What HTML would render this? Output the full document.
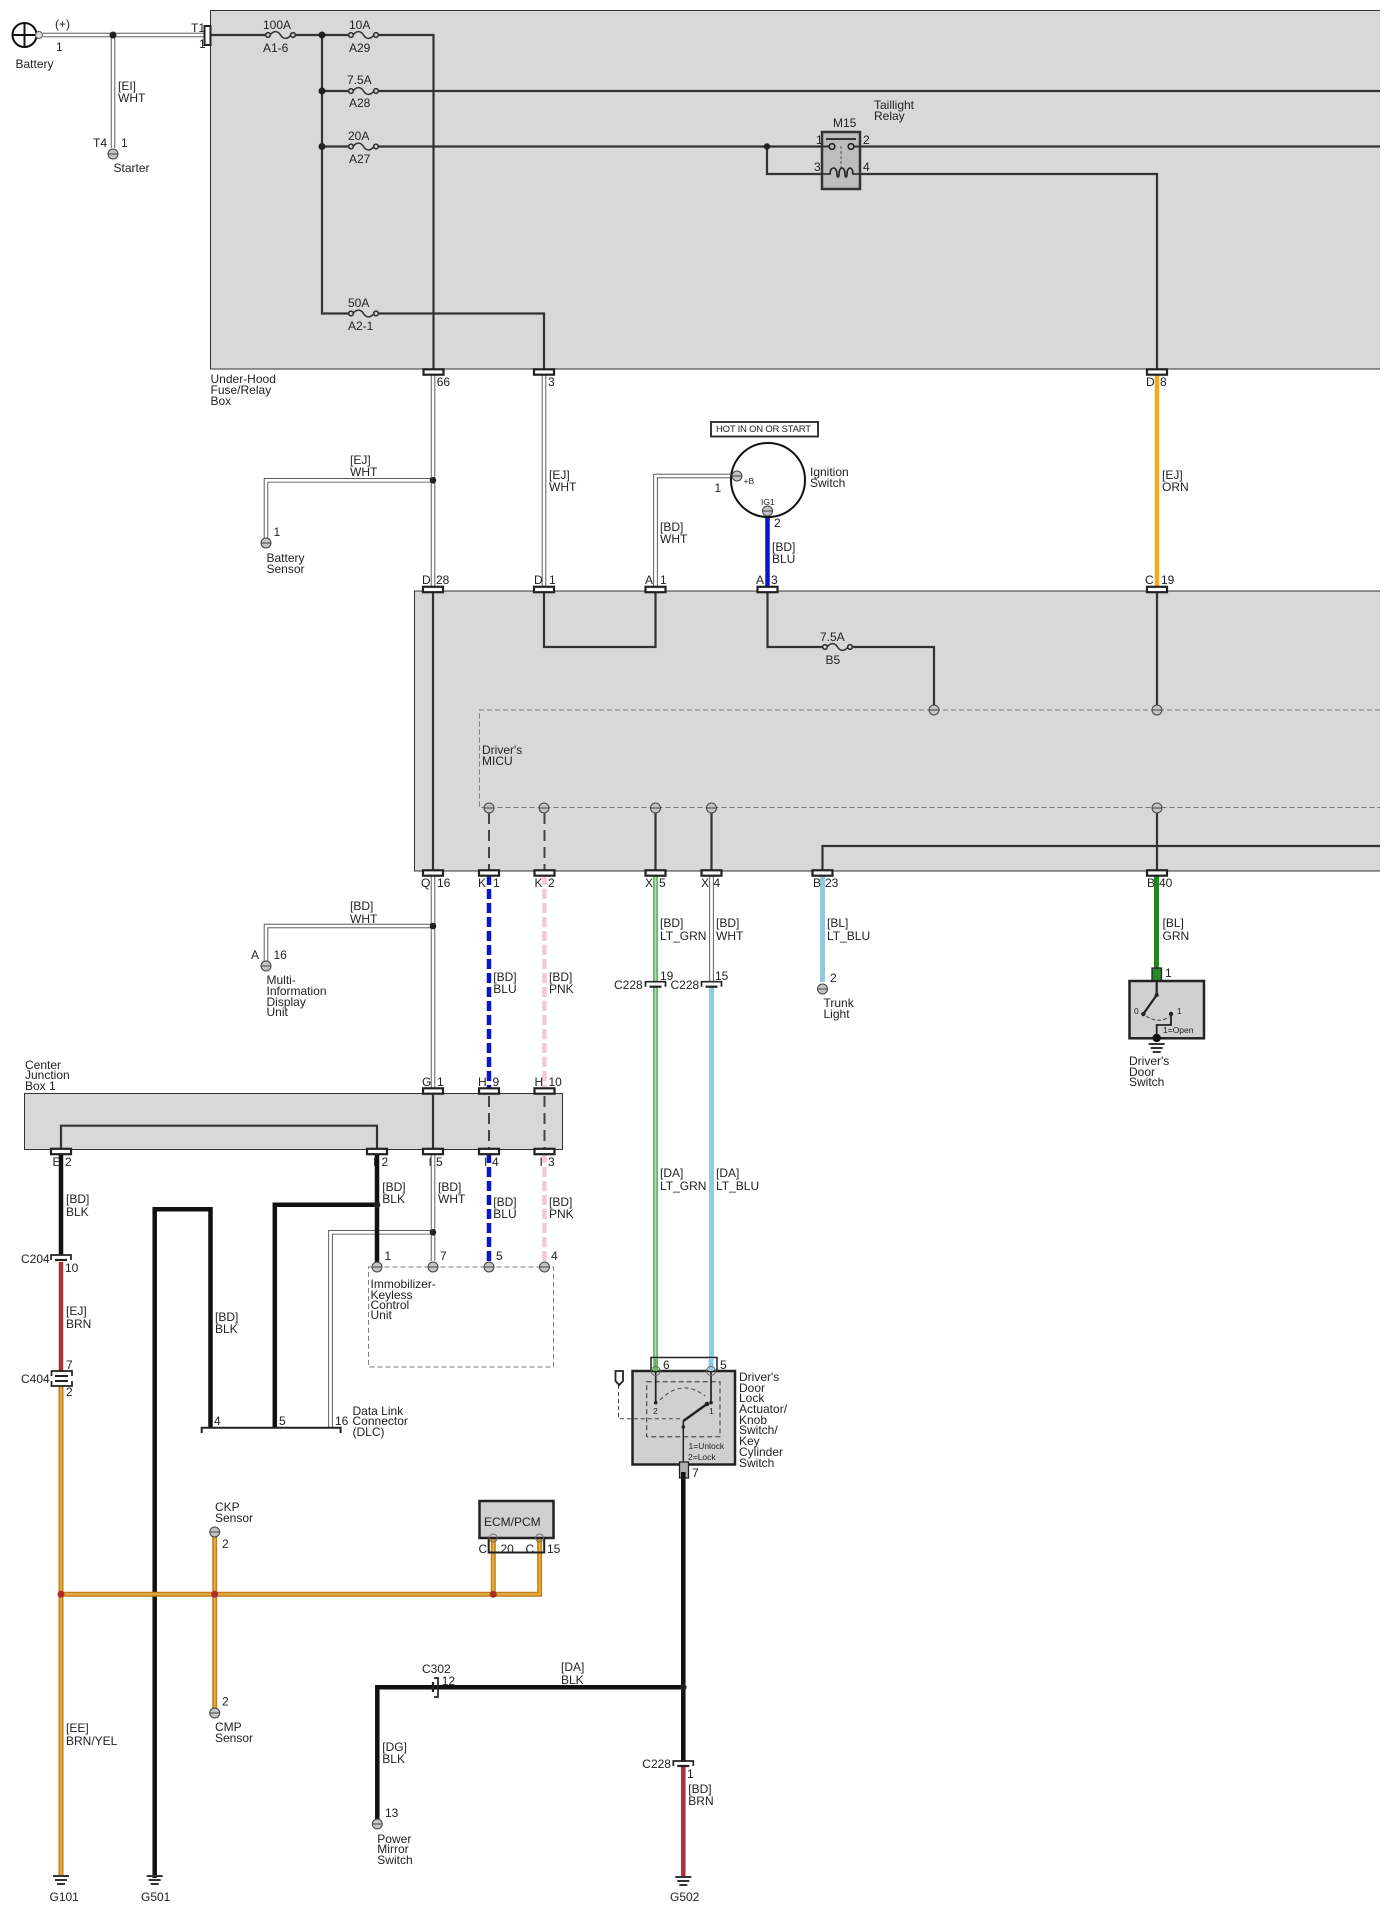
<!DOCTYPE html>
<html><head><meta charset="utf-8"><style>
html,body{margin:0;padding:0;background:#fff}
svg{display:block}
text{font-family:"Liberation Sans",sans-serif;font-size:12px;fill:#222}
.s{font-size:8.5px}
</style></head><body>
<svg width="1390" height="1910" viewBox="0 0 1390 1910" xmlns="http://www.w3.org/2000/svg">
<defs>
<g id="p"><circle r="5" fill="#c4c4c4" stroke="#444" stroke-width="1"/><line x1="-5" x2="5" stroke="#444" stroke-width="1"/></g>
<g id="f" fill="none" stroke="#333"><path d="M2,0C6,-5 10,-4 12.5,0S19,5 23,0" stroke-width="1.6"/><circle r="2.3" fill="#d8d8d8" stroke-width="1.6"/><circle cx="25" r="2.3" fill="#d8d8d8" stroke-width="1.6"/></g>
<rect id="c" x="-10" y="-2.7" width="20" height="5.4" fill="#fff" stroke="#222" stroke-width="2.200"/>
<g id="b" fill="none" stroke="#222"><path d="M-10,5V0H10V5" stroke-width="1.7"/><path d="M-6,5H6" stroke-width="2.2"/></g>
<g id="g" stroke="#333" stroke-width="2"><path d="M-8,1H8M-6,5H6M-4,9H4"/></g>
</defs>

<!-- Boxes -->
<rect x="210.500" y="10.500" width="1169.500" height="358.500" fill="#d8d8d8"/>
<path d="M1380,10.500H210.500V369H1380" fill="none" stroke="#333" stroke-width="1"/>
<rect x="414.500" y="591" width="965.500" height="280" fill="#d8d8d8"/>
<path d="M1380,591H414.500V871H1380" fill="none" stroke="#333" stroke-width="1"/>
<rect x="24.500" y="1093.500" width="538" height="56" fill="#d8d8d8" stroke="#333" stroke-width="1"/>

<!-- MICU dashed -->
<path d="M1380,710H479.500V807.500H1380" fill="none" stroke="#777" stroke-width="0.900" stroke-dasharray="5 3"/>

<!-- Immobilizer dashed -->
<path d="M368.500,1267H553.500V1367H368.500Z" fill="none" stroke="#777" stroke-width="0.900" stroke-dasharray="5 3"/>

<!-- Internal lines box 1 -->
<g fill="none" stroke="#333" stroke-width="2.200">
<path d="M211,35H268M292,35H351M376,35H433.500V372"/>
<path d="M322,35V313.500H351M376,313.500H544V372"/>
<path d="M322,91H351M376,91H1380"/>
<path d="M322,146.500H351M376,146.500H1380"/>
<path d="M767,146.500V174H1157V372"/>
<!-- box 2 -->
<path d="M433,589V873"/>
<path d="M544,589V647H655.500V589"/>
<path d="M767.500,589V647H825M850,647H934V710"/>
<path d="M1157,589V710"/>
<path d="M655.500,808V873M711.500,808V873M1157,808V873"/>
<path d="M822.500,873V846H1380"/>
<!-- box 3 -->
<path d="M61,1151V1125.700H377V1151"/>
<path d="M433,1091V1151"/>
</g>
<g fill="none" stroke="#444" stroke-width="2" stroke-dasharray="11 6">
<path d="M489,813V870"/><path d="M544.500,813V870"/>
<path d="M489,1096V1150"/><path d="M544.500,1096V1150"/>
</g>

<!-- Fuses -->
<use href="#f" x="268" y="35"/><use href="#f" x="351" y="35"/><use href="#f" x="351" y="91"/><use href="#f" x="351" y="146.500"/><use href="#f" x="351" y="313.500"/><use href="#f" x="825" y="647"/>

<!-- White double wires -->
<g id="ww" fill="none">
<path d="M43,35H204"/><path d="M113,35V148"/>
<path d="M433,375V587"/><path d="M433,480.300H266V538"/>
<path d="M544,375V587"/>
<path d="M732,476H655.500V587"/>
<path d="M433,875V1088"/><path d="M433,926H266V961"/>
<path d="M433,1153V1261"/><path d="M433,1232.300H330.500V1427"/>
<path d="M711.500,875V982"/>
</g>
<use href="#ww" stroke="#444" stroke-width="4.500"/>
<use href="#ww" stroke="#fff" stroke-width="2.800"/>

<!-- Colored wires -->
<g fill="none">
<path d="M1157,375V587" stroke="#efab1f" stroke-width="4.500"/>
<path d="M767.500,516V587" stroke="#0b14c8" stroke-width="4.500"/>
<path d="M489,875V1088M489,1153V1262" stroke="#0b14c8" stroke-width="4.500" stroke-dasharray="10 4"/>
<path d="M544.500,875V1088M544.500,1153V1262" stroke="#f6c8d2" stroke-width="4.500" stroke-dasharray="10 4"/>
<path d="M655.500,875V982M655.500,987V1360" stroke="#6fb36f" stroke-width="5"/>
<path d="M655.500,875V982M655.500,987V1360" stroke="#b5deb0" stroke-width="1.500"/>
<path d="M711.500,987V1360" stroke="#8dcbe4" stroke-width="5"/>
<path d="M822.500,875V982" stroke="#8dcbe4" stroke-width="5"/>
<path d="M1156.500,875V970" stroke="#1a8a1a" stroke-width="5"/>
<!-- black -->
<g stroke="#111" stroke-width="4.500">
<path d="M61,1153V1255"/>
<path d="M377,1153V1262"/>
<path d="M377,1204.700H274.800V1427"/>
<path d="M154.700,1878V1209.300H210.500V1427"/>
<path d="M683.300,1478V1762"/>
<path d="M683.300,1687.300H377.300V1820"/>
</g>
<path d="M61,1262V1372" stroke="#a83238" stroke-width="4.500"/>
<path d="M683.300,1767V1876" stroke="#a83238" stroke-width="4.500"/>
</g>

<!-- Orange wires -->
<g id="oo" fill="none">
<path d="M61,1386V1875"/>
<path d="M61,1594.300H539.600V1538"/>
<path d="M493.300,1594.300V1538"/>
<path d="M214.700,1536V1708"/>
</g>
<use href="#oo" stroke="#c27f1e" stroke-width="5"/>
<use href="#oo" stroke="#e6b040" stroke-width="2"/>

<!-- DLC -->
<path d="M201.700,1433V1427.700H340.600V1433" fill="none" stroke="#222" stroke-width="2"/>

<!-- Junction dots -->
<g fill="#222">
<circle cx="113" cy="35" r="3.500"/><circle cx="322" cy="35" r="3.500"/><circle cx="322" cy="91" r="3.500"/><circle cx="322" cy="146.500" r="3.500"/>
<circle cx="767" cy="146.500" r="3.200"/>
<circle cx="433" cy="480.300" r="3.300"/><circle cx="433" cy="926" r="3.300"/><circle cx="433" cy="1232.300" r="3.300"/>
<circle cx="377" cy="1204.700" r="3.300"/><circle cx="683.300" cy="1687.300" r="3.300"/>
</g>
<g fill="#b02a2a"><circle cx="61" cy="1594.300" r="3.500"/><circle cx="214.700" cy="1594.300" r="3.500"/><circle cx="493.300" cy="1594.300" r="3.500"/></g>

<!-- Battery -->
<circle cx="24.500" cy="35" r="12" fill="#fff" stroke="#111" stroke-width="2"/>
<path d="M12.500,35H36.500M24.500,23V47" stroke="#111" stroke-width="2"/>
<circle cx="39" cy="35" r="3.500" fill="#ddd" stroke="#555" stroke-width="1"/>

<!-- T1 -->
<rect x="204.500" y="26" width="6" height="19" fill="#fff" stroke="#222" stroke-width="2"/>

<!-- Relay -->
<rect x="822" y="132" width="38" height="57" fill="#bdbdbd" stroke="#333" stroke-width="2.500"/>
<path d="M822,146.500H832M851,146.500H860" stroke="#333" stroke-width="2"/>
<path d="M826,139H856" stroke="#333" stroke-width="2"/>
<circle cx="832" cy="146.500" r="2.800" fill="#bdbdbd" stroke="#222" stroke-width="1.700"/>
<circle cx="851" cy="146.500" r="2.800" fill="#bdbdbd" stroke="#222" stroke-width="1.700"/>
<path d="M841,146V168" stroke="#555" stroke-width="1" stroke-dasharray="3 2"/>
<path d="M822,174H830C830,166 837,166 837,174C837,178 839,178 839,174C839,166 845,166 845,174C845,178 847,178 847,174C847,166 853,166 853,174H860" fill="none" stroke="#222" stroke-width="1.600"/>

<!-- Connectors -->
<use href="#c" x="433.500" y="372"/><use href="#c" x="544" y="372"/><use href="#c" x="1157" y="372"/>
<use href="#c" x="433" y="589.500"/><use href="#c" x="544" y="589.500"/><use href="#c" x="655.500" y="589.500"/><use href="#c" x="767.500" y="589.500"/><use href="#c" x="1157" y="589.500"/>
<use href="#c" x="433" y="873"/><use href="#c" x="489" y="873"/><use href="#c" x="544.500" y="873"/><use href="#c" x="655.500" y="873"/><use href="#c" x="711.500" y="873"/><use href="#c" x="822.500" y="873"/><use href="#c" x="1157" y="873"/>
<use href="#c" x="433" y="1091"/><use href="#c" x="489" y="1091"/><use href="#c" x="544.500" y="1091"/>
<use href="#c" x="61" y="1151.500"/><use href="#c" x="377" y="1151.500"/><use href="#c" x="433" y="1151.500"/><use href="#c" x="489" y="1151.500"/><use href="#c" x="544.500" y="1151.500"/>

<!-- Brackets -->
<use href="#b" x="655.500" y="981.700"/><use href="#b" x="711.500" y="981.700"/>
<use href="#b" x="61" y="1255"/><use href="#b" x="683.300" y="1761"/>
<g fill="none" stroke="#222"><path d="M51.500,1376V1371H72V1376M51.500,1381V1386H72V1381" stroke-width="1.700"/><path d="M55,1376H68M55,1381H68" stroke-width="2"/></g>
<g fill="none" stroke="#222"><path d="M434,1678H438V1697H434" stroke-width="1.700"/><path d="M433,1682V1692" stroke-width="2.200"/></g>

<!-- Pins -->
<use href="#p" x="113" y="154"/><use href="#p" x="266" y="543"/><use href="#p" x="266" y="966"/>
<use href="#p" x="934" y="710"/><use href="#p" x="1157" y="710"/>
<use href="#p" x="489" y="808"/><use href="#p" x="544" y="808"/><use href="#p" x="655.500" y="808"/><use href="#p" x="711.500" y="808"/><use href="#p" x="1157" y="808"/>
<use href="#p" x="377" y="1267"/><use href="#p" x="433" y="1267"/><use href="#p" x="489" y="1267"/><use href="#p" x="544.500" y="1267"/>
<use href="#p" x="822.500" y="989"/><use href="#p" x="214.700" y="1532"/><use href="#p" x="214.700" y="1713"/><use href="#p" x="377.300" y="1824"/>

<!-- Ignition switch -->
<rect x="711" y="422" width="107" height="14.500" fill="#fff" stroke="#222" stroke-width="1.800"/>
<circle cx="768" cy="480" r="37" fill="#fff" stroke="#111" stroke-width="2"/>
<use href="#p" x="737" y="476"/><use href="#p" x="767.500" y="511"/>

<!-- ECM -->
<rect x="479.500" y="1501" width="74" height="37" fill="#d0d0d0" stroke="#222" stroke-width="2.500"/>
<path d="M488.700,1538V1552.500H544.200V1538" fill="none" stroke="#222" stroke-width="2"/>
<circle cx="493.300" cy="1538" r="4" fill="none" stroke="#666" stroke-width="1"/>
<circle cx="539.600" cy="1538" r="4" fill="none" stroke="#666" stroke-width="1"/>

<!-- Door lock switch -->
<rect x="651" y="1357.500" width="66" height="13.500" fill="#fff" stroke="#222" stroke-width="1.500"/>
<rect x="632.500" y="1371" width="102.500" height="93.500" fill="#d0d0d0" stroke="#222" stroke-width="2.500"/>
<path d="M655.700,1358V1371" stroke="#6fb36f" stroke-width="5"/>
<path d="M711,1358V1371" stroke="#8dcbe4" stroke-width="5"/>
<rect x="646.700" y="1381.700" width="73.300" height="55" fill="none" stroke="#333" stroke-width="1" stroke-dasharray="5 3"/>
<path d="M655.700,1371V1402.700M711,1371V1402.700" stroke="#222" stroke-width="1.700"/>
<circle cx="655.700" cy="1371" r="4.500" fill="none" stroke="#666" stroke-width="1"/><circle cx="711" cy="1371" r="4.500" fill="none" stroke="#666" stroke-width="1"/>
<circle cx="655.700" cy="1402.700" r="1.800" fill="#222"/><circle cx="711" cy="1402.700" r="1.800" fill="#222"/>
<path d="M660,1400Q682,1378 705,1396" fill="none" stroke="#444" stroke-width="1" stroke-dasharray="4 3"/>
<path d="M707,1404L683.300,1421" stroke="#222" stroke-width="2.500"/>
<path d="M683.300,1421V1464" stroke="#222" stroke-width="1.500"/>
<circle cx="683.300" cy="1427" r="1.800" fill="#222"/><circle cx="707" cy="1404" r="2.300" fill="#222"/>
<path d="M618.500,1385V1418.700H682" fill="none" stroke="#444" stroke-width="1" stroke-dasharray="4 3"/>
<path d="M615.500,1371H623V1381L619.200,1385L615.500,1381Z" fill="#fff" stroke="#222" stroke-width="1.800"/>
<rect x="679.500" y="1462" width="9" height="16" fill="#b0b0b0" stroke="#222" stroke-width="1.300"/>
<path d="M683.300,1472V1478" stroke="#111" stroke-width="4.500"/>

<!-- Door switch -->
<rect x="1152" y="968" width="9.500" height="12.700" fill="#2a8a2a" stroke="#222" stroke-width="1.300"/>
<rect x="1129.500" y="981" width="74.500" height="57.300" fill="#d0d0d0" stroke="#222" stroke-width="2.500"/>
<path d="M1156.700,981V995L1143.300,1014" fill="none" stroke="#222" stroke-width="2.200"/>
<circle cx="1143.300" cy="1014" r="2.200" fill="#222"/><circle cx="1156.700" cy="995" r="2" fill="#222"/><circle cx="1171" cy="1014" r="2.200" fill="#222"/>
<path d="M1146,1016Q1158,1024 1169,1017" fill="none" stroke="#444" stroke-width="1" stroke-dasharray="4 2"/>
<path d="M1171,1014V1025H1156.700V1038" fill="none" stroke="#222" stroke-width="1.800"/>
<circle cx="1156.700" cy="1038" r="4.200" fill="#111"/>
<use href="#g" x="1156.700" y="1043"/>

<!-- Grounds -->
<use href="#g" x="61" y="1875"/><use href="#g" x="154.700" y="1875"/><use href="#g" x="683.300" y="1876"/>

<!-- Labels -->
<text x="55" y="28">(+)</text><text x="56" y="51">1</text><text x="15.500" y="68">Battery</text>
<text x="191" y="32">T1</text><text x="199" y="48">1</text>
<text x="118" y="90">[EI]</text><text x="118" y="102">WHT</text>
<text x="93" y="147">T4</text><text x="121" y="147">1</text><text x="113.500" y="172">Starter</text>
<text x="263" y="29">100A</text><text x="263" y="52">A1-6</text>
<text x="349" y="29">10A</text><text x="349" y="52">A29</text>
<text x="347" y="84">7.5A</text><text x="349" y="107">A28</text>
<text x="348" y="140">20A</text><text x="349" y="163">A27</text>
<text x="348" y="307">50A</text><text x="348" y="330">A2-1</text>
<text x="210.500" y="383">Under-Hood</text><text x="210.500" y="394">Fuse/Relay</text><text x="210.500" y="405">Box</text>
<text x="833" y="127">M15</text><text x="874" y="109">Taillight</text><text x="874" y="120">Relay</text>
<text x="816" y="144">1</text><text x="863" y="144">2</text><text x="814" y="171">3</text><text x="863" y="171">4</text>
<text x="436.700" y="386">66</text><text x="548" y="386">3</text><text x="1146" y="386">D</text><text x="1160" y="386">8</text>
<text x="350" y="464">[EJ]</text><text x="350" y="476">WHT</text>
<text x="549" y="479">[EJ]</text><text x="549" y="491">WHT</text>
<text x="660" y="531">[BD]</text><text x="660" y="543">WHT</text>
<text x="714.500" y="492">1</text><text x="774" y="527">2</text>
<text x="772" y="551">[BD]</text><text x="772" y="563">BLU</text>
<text x="273.500" y="536">1</text><text x="266.500" y="562">Battery</text><text x="266.500" y="573">Sensor</text>
<text x="716" y="432" style="font-size:9.500px" textLength="95">HOT IN ON OR START</text>
<text x="743.500" y="484" class="s">+B</text><text x="761" y="505" class="s">IG1</text>
<text x="810" y="476">Ignition</text><text x="810" y="487">Switch</text>
<text x="1162" y="479">[EJ]</text><text x="1162" y="491">ORN</text>
<text x="422" y="584">D</text><text x="436" y="584">28</text><text x="534" y="584">D</text><text x="549" y="584">1</text>
<text x="645" y="584">A</text><text x="660" y="584">1</text><text x="756" y="584">A</text><text x="771" y="584">3</text>
<text x="1145" y="584">C</text><text x="1161" y="584">19</text>
<text x="820" y="641">7.5A</text><text x="825.500" y="664">B5</text>
<text x="482" y="754">Driver's</text><text x="482" y="765">MICU</text>
<text x="421" y="887">Q</text><text x="437" y="887">16</text><text x="478" y="887">K</text><text x="493" y="887">1</text><text x="534.500" y="887">K</text><text x="548" y="887">2</text>
<text x="645" y="887">X</text><text x="659" y="887">5</text><text x="701" y="887">X</text><text x="713.500" y="887">4</text><text x="813" y="887">B</text><text x="825" y="887">23</text><text x="1147" y="887">B</text><text x="1159" y="887">40</text>
<text x="350" y="910">[BD]</text><text x="350" y="923">WHT</text>
<text x="251" y="959">A</text><text x="273.500" y="959">16</text>
<text x="266.500" y="984">Multi-</text><text x="266.500" y="995">Information</text><text x="266.500" y="1006">Display</text><text x="266.500" y="1016">Unit</text>
<text x="493.300" y="981">[BD]</text><text x="493.300" y="993">BLU</text><text x="549" y="981">[BD]</text><text x="549" y="993">PNK</text>
<text x="660" y="927">[BD]</text><text x="660" y="940">LT_GRN</text><text x="716" y="927">[BD]</text><text x="716" y="940">WHT</text>
<text x="827" y="927">[BL]</text><text x="827" y="940">LT_BLU</text><text x="1162.500" y="927">[BL]</text><text x="1162.500" y="940">GRN</text>
<text x="660" y="980">19</text><text x="715" y="980">15</text><text x="614" y="989">C228</text><text x="670.500" y="989">C228</text>
<text x="830" y="982">2</text><text x="823.500" y="1007">Trunk</text><text x="823.500" y="1018">Light</text>
<text x="1165" y="977">1</text><text x="1134" y="1014" class="s">0</text><text x="1177" y="1014" class="s">1</text><text x="1163" y="1033" class="s">1=Open</text>
<text x="1129" y="1065">Driver's</text><text x="1129" y="1076">Door</text><text x="1129" y="1086">Switch</text>
<text x="25" y="1069">Center</text><text x="25" y="1079">Junction</text><text x="25" y="1090">Box 1</text>
<text x="422" y="1086">G</text><text x="437" y="1086">1</text><text x="478" y="1086">H</text><text x="492.500" y="1086">9</text><text x="534.500" y="1086">H</text><text x="548.500" y="1086">10</text>
<text x="52.500" y="1166">E</text><text x="65" y="1166">2</text><text x="373" y="1166">I</text><text x="381.500" y="1166">2</text><text x="428.500" y="1166">I</text><text x="436" y="1166">5</text><text x="484" y="1166">I</text><text x="492" y="1166">4</text><text x="539.500" y="1166">I</text><text x="548" y="1166">3</text>
<text x="382.300" y="1191">[BD]</text><text x="382.300" y="1203">BLK</text><text x="438" y="1191">[BD]</text><text x="438" y="1203">WHT</text>
<text x="493.300" y="1206">[BD]</text><text x="493.300" y="1218">BLU</text><text x="549" y="1206">[BD]</text><text x="549" y="1218">PNK</text>
<text x="66" y="1203">[BD]</text><text x="66" y="1216">BLK</text>
<text x="21" y="1263">C204</text><text x="65" y="1272">10</text>
<text x="66" y="1315">[EJ]</text><text x="66" y="1328">BRN</text>
<text x="215" y="1321">[BD]</text><text x="215" y="1333">BLK</text>
<text x="384.500" y="1260">1</text><text x="440" y="1260">7</text><text x="496" y="1260">5</text><text x="551" y="1260">4</text>
<text x="370.500" y="1288">Immobilizer-</text><text x="370.500" y="1299">Keyless</text><text x="370.500" y="1309">Control</text><text x="370.500" y="1319">Unit</text>
<text x="21" y="1383">C404</text><text x="66" y="1369">7</text><text x="66" y="1396">2</text>
<text x="214" y="1425">4</text><text x="279" y="1425">5</text><text x="335" y="1425">16</text>
<text x="352.500" y="1415">Data Link</text><text x="352.500" y="1425">Connector</text><text x="352.500" y="1436">(DLC)</text>
<text x="660" y="1177">[DA]</text><text x="660" y="1190">LT_GRN</text><text x="716" y="1177">[DA]</text><text x="716" y="1190">LT_BLU</text>
<text x="663" y="1369">6</text><text x="720" y="1369">5</text>
<text x="739" y="1381">Driver's</text><text x="739" y="1392">Door</text><text x="739" y="1402">Lock</text><text x="739" y="1413">Actuator/</text><text x="739" y="1424">Knob</text><text x="739" y="1434">Switch/</text><text x="739" y="1445">Key</text><text x="739" y="1456">Cylinder</text><text x="739" y="1467">Switch</text>
<text x="653" y="1414" class="s">2</text><text x="709" y="1414" class="s">1</text>
<text x="688.500" y="1449" class="s">1=Unlock</text><text x="688" y="1460" class="s">2=Lock</text>
<text x="692" y="1477">7</text>
<text x="215" y="1511">CKP</text><text x="215" y="1522">Sensor</text><text x="222" y="1548">2</text>
<text x="222" y="1705.500">2</text><text x="215" y="1731">CMP</text><text x="215" y="1742">Sensor</text>
<text x="484" y="1526">ECM/PCM</text>
<text x="478.500" y="1553">C</text><text x="500.500" y="1553">20</text><text x="525.500" y="1553">C</text><text x="547" y="1553">15</text>
<text x="66" y="1732">[EE]</text><text x="66" y="1745">BRN/YEL</text>
<text x="49.500" y="1901">G101</text><text x="141" y="1901">G501</text><text x="670" y="1901">G502</text>
<text x="382.300" y="1751">[DG]</text><text x="382.300" y="1763">BLK</text><text x="385" y="1817">13</text>
<text x="377.300" y="1843">Power</text><text x="377.300" y="1853">Mirror</text><text x="377.300" y="1864">Switch</text>
<text x="422" y="1673">C302</text><text x="441.700" y="1685">12</text>
<text x="561" y="1671">[DA]</text><text x="561" y="1684">BLK</text>
<text x="642.300" y="1768">C228</text><text x="687" y="1778">1</text>
<text x="688.300" y="1793">[BD]</text><text x="688.300" y="1805">BRN</text>
</svg>
</body></html>
